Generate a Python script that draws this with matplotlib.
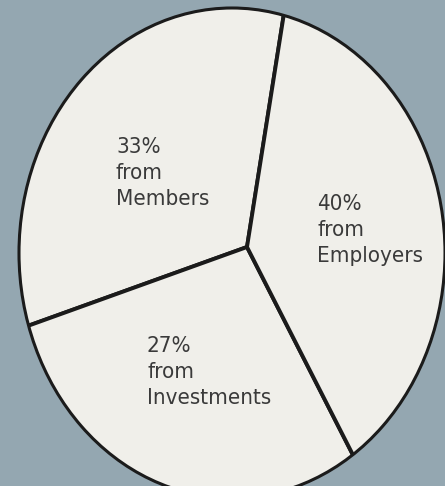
"""Where the fund's contributions come from, drawn as a three-slice pie."""
import matplotlib
matplotlib.use("Agg")
import matplotlib.pyplot as plt
from matplotlib.patches import Ellipse

# contribution sources, counter-clockwise from the top
sources = ["Members", "Investments", "Employers"]
shares = [33, 27, 40]

BG = "#94a7b1"
FILL = "#f0efea"
INK = "#1b1b1b"
TEXT = "#3a3a3a"

W, H = 445, 486
plt.rcParams["font.family"] = ["DejaVu Sans"]
plt.rcParams["font.stretch"] = "condensed"

fig = plt.figure(figsize=(W / 100, H / 100), dpi=100)
fig.patch.set_facecolor(BG)
ax = fig.add_axes([0, 0, 1, 1])
ax.set_facecolor(BG)

# wedges meet a little right of the outline's centre, so draw them large
# and trim them with the oval outline
hub = (247, H - 247)
wedges, _ = ax.pie(shares, startangle=81, counterclock=True, center=hub,
                   radius=700, colors=[FILL] * len(shares),
                   wedgeprops=dict(edgecolor=INK, linewidth=2.8))
rim = Ellipse((232, H - 253), 426, 490, facecolor="none", edgecolor=INK,
              linewidth=2.2, zorder=5)
ax.add_patch(rim)
for w in wedges:
    w.set_clip_on(True)
    w.set_clip_path(rim)

ax.set_xlim(0, W)
ax.set_ylim(0, H)
ax.set_aspect("auto")
ax.axis("off")

# label anchors (top-left, pixels)
label_at = {"Members": (116, 137), "Investments": (147, 336),
            "Employers": (317, 194)}
for name, pct in zip(sources, shares):
    x, y = label_at[name]
    ax.text(x, H - y, f"{pct}%\nfrom\n{name}", ha="left", va="top",
            fontsize=16, color=TEXT, linespacing=1.38, fontstretch="condensed")

fig.savefig("out.png", dpi=100, facecolor=BG)
